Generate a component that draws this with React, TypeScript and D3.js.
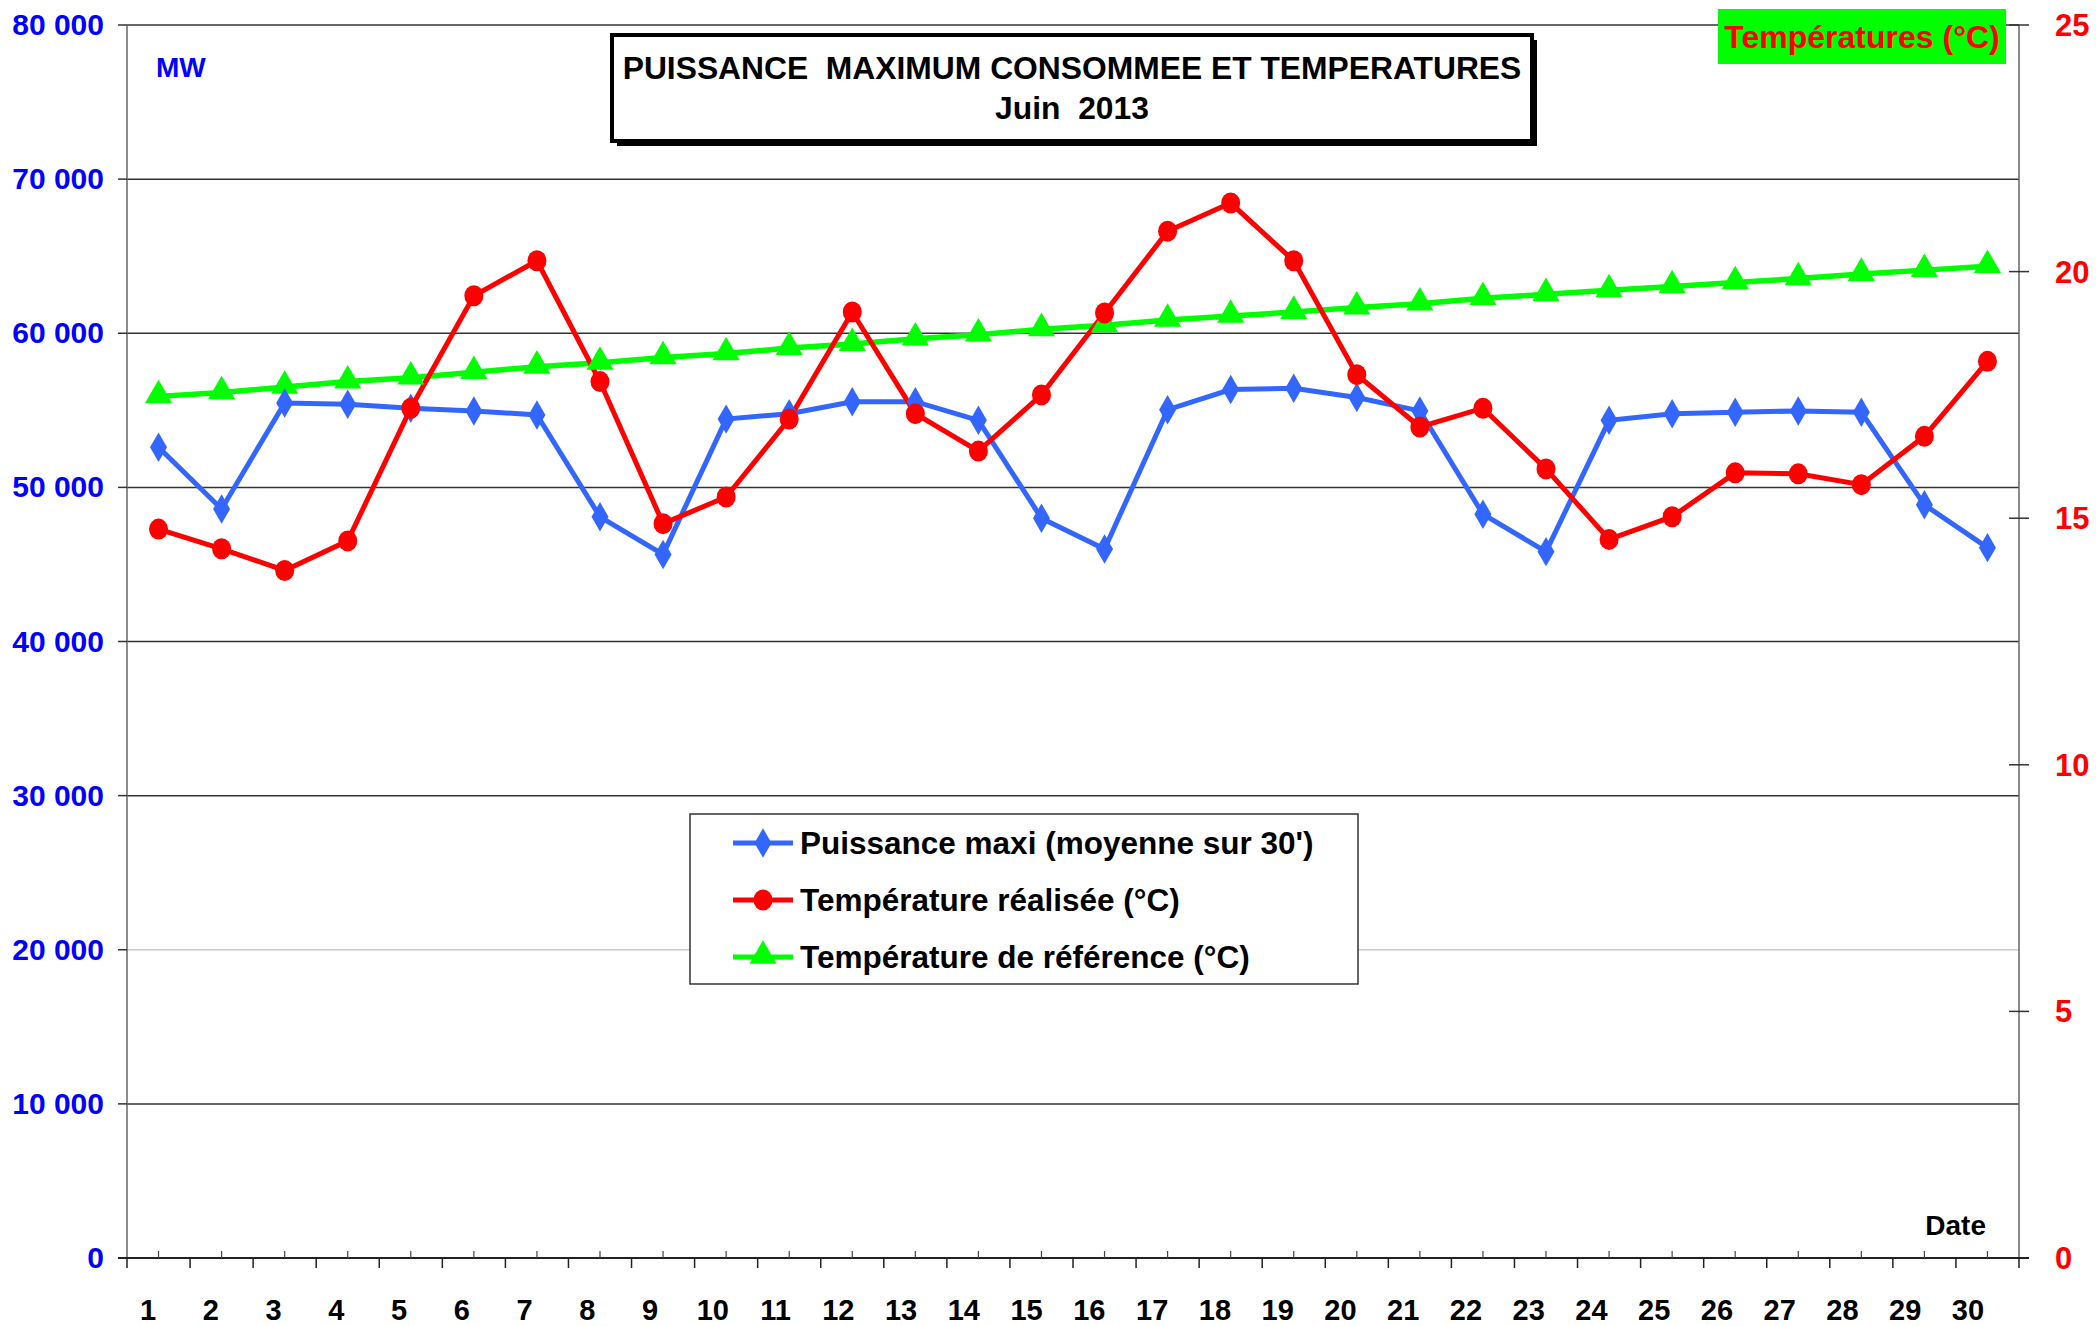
import React from "react";
import * as d3 from "d3";

const days = d3.range(1, 31);
const puissance = [52600, 48600, 55480, 55390, 55130, 54960, 54700, 48090, 45650, 54430, 54780, 55560, 55560, 54350, 48000, 46000, 55040, 56350, 56430, 55830, 54960, 48260, 45830, 54350, 54780, 54870, 54960, 54870, 48870, 46090];
const tempReal = [14.78, 14.38, 13.94, 14.54, 17.23, 19.51, 20.22, 17.77, 14.89, 15.43, 17.01, 19.18, 17.12, 16.36, 17.5, 19.16, 20.82, 21.39, 20.22, 17.91, 16.85, 17.23, 16.0, 14.57, 15.03, 15.92, 15.9, 15.68, 16.66, 18.18];
const tempRef = [17.47, 17.55, 17.66, 17.77, 17.85, 17.96, 18.07, 18.15, 18.26, 18.34, 18.45, 18.53, 18.64, 18.72, 18.83, 18.91, 19.02, 19.1, 19.18, 19.27, 19.35, 19.46, 19.54, 19.62, 19.7, 19.78, 19.86, 19.95, 20.03, 20.11];
const leftTicks = [0, 10000, 20000, 30000, 40000, 50000, 60000, 70000, 80000];
const rightTicks = [0, 5, 10, 15, 20, 25];

const W = 2100, H = 1326;
const L = 127, R = 2019, T = 25, B = 1258;
const FONT = "'Liberation Sans', Arial, Helvetica, sans-serif";

const fmt = (v: number) => d3.format(",")(v).replace(/,/g, " ");

export default function App() {
  const x = d3.scaleBand<number>().domain(days).range([L, R]);
  const bw = x.bandwidth();
  const cx = (d: number) => (x(d) as number) + bw / 2;
  const xLab = d3.scalePoint<number>().domain(days).range([148, 1968]);
  const yL = d3.scaleLinear().domain([0, 80000]).range([B, T]);
  const yR = d3.scaleLinear().domain([0, 25]).range([B, T]);

  const lineP = d3.line<number>().x((_, i) => cx(days[i])).y((v) => yL(v));
  const lineT = d3.line<number>().x((_, i) => cx(days[i])).y((v) => yR(v));

  const diamond = d3.symbol().type(d3.symbolDiamond).size(250)()!;
  const triangle = d3.symbol().type(d3.symbolTriangle).size(320)()!;

  const blue = "#3366ff";
  const red = "#ff0000";
  const green = "#00ff00";

  return (
    <svg width={W} height={H} style={{ position: "absolute", left: 0, top: 0, background: "#fff" }} fontFamily={FONT}>
      {leftTicks.map((t) => (
        <line key={"g" + t} x1={L} x2={R} y1={yL(t)} y2={yL(t)} stroke={t === 20000 ? "#c8c8c8" : "#333"} strokeWidth={1.5} />
      ))}
      <line x1={L} x2={L} y1={T} y2={B} stroke="#666" strokeWidth={1.5} />
      {leftTicks.map((t) => (
        <g key={"l" + t}>
          <line x1={L - 9} x2={L} y1={yL(t)} y2={yL(t)} stroke="#333" strokeWidth={1.5} />
          <text x={104} y={yL(t) + 10} textAnchor="end" fontSize={30} fontWeight="bold" fill="#0000ff">{fmt(t)}</text>
        </g>
      ))}
      <line x1={R} x2={R} y1={T} y2={B} stroke="#666" strokeWidth={1.5} />
      {rightTicks.map((t) => (
        <g key={"r" + t}>
          <line x1={R - 10} x2={R + 10} y1={yR(t)} y2={yR(t)} stroke="#333" strokeWidth={1.5} />
          <text x={2055} y={yR(t) + 11} textAnchor="start" fontSize={31} fontWeight="bold" fill={red}>{t}</text>
        </g>
      ))}
      <line x1={L - 9} x2={R + 10} y1={B} y2={B} stroke="#222" strokeWidth={2} />
      {days.map((d) => (
        <g key={"x" + d}>
          <line x1={x(d)} x2={x(d)} y1={B} y2={B + 10} stroke="#222" strokeWidth={1.5} />
          <line x1={cx(d)} x2={cx(d)} y1={B - 7} y2={B} stroke="#444" strokeWidth={1.2} />
          <text x={xLab(d)} y={1320} textAnchor="middle" fontSize={29} fontWeight="bold" fill="#000">{d}</text>
        </g>
      ))}
      <line x1={R} x2={R} y1={B} y2={B + 10} stroke="#222" strokeWidth={1.5} />

      <path d={lineT(tempRef)!} fill="none" stroke={green} strokeWidth={5.5} />
      <path d={lineP(puissance)!} fill="none" stroke={blue} strokeWidth={5} />
      <path d={lineT(tempReal)!} fill="none" stroke={red} strokeWidth={5} />
      {tempRef.map((v, i) => (
        <path key={"tr" + i} d={triangle} transform={`translate(${cx(days[i])},${yR(v) - 1})`} fill={green} />
      ))}
      {puissance.map((v, i) => (
        <path key={"p" + i} d={diamond} transform={`translate(${cx(days[i])},${yL(v)})`} fill={blue} />
      ))}
      {tempReal.map((v, i) => (
        <ellipse key={"t" + i} cx={cx(days[i])} cy={yR(v)} rx={9.5} ry={10.5} fill={red} />
      ))}

      <text x={156} y={77} fontSize={28} fontWeight="bold" fill="#0000ff">MW</text>

      <rect x={617} y={40} width={920} height={106} fill="#000" />
      <rect x={612} y={35} width={920} height={106} fill="#fff" stroke="#000" strokeWidth={4} />
      <text x={1072} y={79} textAnchor="middle" fontSize={31.8} fontWeight="bold" fill="#000" style={{ whiteSpace: "pre" }}>{"PUISSANCE  MAXIMUM CONSOMMEE ET TEMPERATURES"}</text>
      <text x={1072} y={119} textAnchor="middle" fontSize={31.8} fontWeight="bold" fill="#000" style={{ whiteSpace: "pre" }}>{"Juin  2013"}</text>

      <rect x={1718} y={9} width={288} height={55} fill={green} />
      <text x={1862} y={48} textAnchor="middle" fontSize={32} fontWeight="bold" fill={red}>Températures (°C)</text>

      <text x={1986} y={1235} textAnchor="end" fontSize={28} fontWeight="bold" fill="#000">Date</text>

      <rect x={690} y={814} width={668} height={170} fill="#fff" stroke="#333" strokeWidth={1.5} />
      {[
        { label: "Puissance maxi (moyenne sur 30')", color: blue, kind: "d" },
        { label: "Température réalisée (°C)", color: red, kind: "c" },
        { label: "Température de référence (°C)", color: green, kind: "t" },
      ].map((e, i) => {
        const yy = 843 + i * 57;
        return (
          <g key={"lg" + i}>
            <line x1={733} x2={793} y1={yy} y2={yy} stroke={e.color} strokeWidth={5} />
            {e.kind === "d" && <path d={diamond} transform={`translate(763,${yy})`} fill={e.color} />}
            {e.kind === "c" && <ellipse cx={763} cy={yy} rx={9.5} ry={10.5} fill={e.color} />}
            {e.kind === "t" && <path d={triangle} transform={`translate(763,${yy - 1})`} fill={e.color} />}
            <text x={800} y={yy + 11} fontSize={31.5} fontWeight="bold" fill="#000">{e.label}</text>
          </g>
        );
      })}
    </svg>
  );
}
